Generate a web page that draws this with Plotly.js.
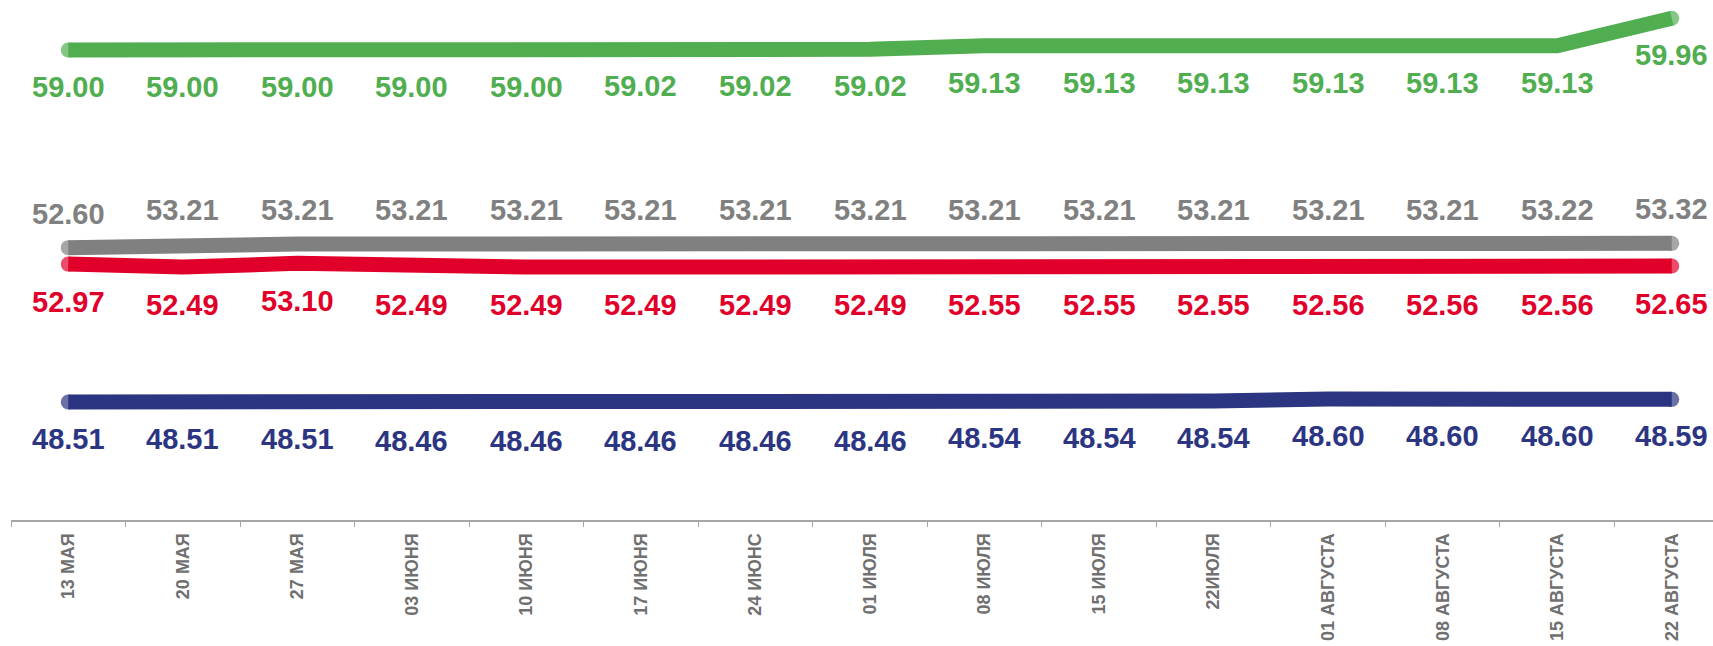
<!DOCTYPE html>
<html>
<head>
<meta charset="utf-8">
<script src="https://cdn.plot.ly/plotly-3.0.1.min.js"></script>
<style>html,body{margin:0;padding:0;background:#fff;}#chart{width:1713px;height:646px;}</style>
</head>
<body>
<div id="chart"></div>
<script>
const categories = ['13 МАЯ','20 МАЯ','27 МАЯ','03 ИЮНЯ','10 ИЮНЯ','17 ИЮНЯ','24 ИЮНС','01 ИЮЛЯ','08 ИЮЛЯ','15 ИЮЛЯ','22ИЮЛЯ','01 АВГУСТА','08 АВГУСТА','15 АВГУСТА','22 АВГУСТА'];
const greenValues = [59.00,59.00,59.00,59.00,59.00,59.02,59.02,59.02,59.13,59.13,59.13,59.13,59.13,59.13,59.96];
const grayValues  = [52.60,53.21,53.21,53.21,53.21,53.21,53.21,53.21,53.21,53.21,53.21,53.21,53.21,53.22,53.32];
const redValues   = [52.97,52.49,53.10,52.49,52.49,52.49,52.49,52.49,52.55,52.55,52.55,52.56,52.56,52.56,52.65];
const blueValues  = [48.51,48.51,48.51,48.46,48.46,48.46,48.46,48.46,48.54,48.54,48.54,48.60,48.60,48.60,48.59];

const W = 1713, H = 646, mL = 11, mB = 126;
const plotH = H - mB;
const LW = 15;

// each series drawn on its own hidden y-axis (offset placement, like the original)
const series = [
  {vals: greenValues, color: '#50ae50', axis: 'y',  ref: 59.00, px: 50,  scale: 33, shift: -37},
  {vals: grayValues,  color: '#808080', axis: 'y2', ref: 53.21, px: 244, scale: 6,  shift: 34},
  {vals: redValues,   color: '#e1002a', axis: 'y3', ref: 52.49, px: 267, scale: 6,  shift: -38},
  {vals: blueValues,  color: '#2b3582', axis: 'y4', ref: 48.51, px: 402, scale: 33, shift: -37}
];

function rangeFor(s){
  const top = s.ref + s.px / s.scale;
  return [top - plotH / s.scale, top];
}

const n = categories.length;
const capSizes = categories.map((_, i) => (i === 0 || i === n - 1) ? LW : 0);

const traces = series.map(s => ({
  x: categories, y: s.vals, yaxis: s.axis, type: 'scatter', mode: 'lines+markers',
  line: {color: s.color, width: LW},
  marker: {color: s.color, size: capSizes, line: {width: 0}},
  cliponaxis: false, hoverinfo: 'skip', showlegend: false
}));

const annotations = [];
series.forEach(s => {
  s.vals.forEach((v, i) => {
    annotations.push({
      x: categories[i], y: v, xref: 'x', yref: s.axis, text: v.toFixed(2),
      showarrow: false, yshift: s.shift, xanchor: 'center', yanchor: 'middle',
      font: {family: 'Liberation Sans, Arial, sans-serif', size: 29, weight: 700, color: s.color}
    });
  });
});

const hiddenY = r => ({range: r, visible: false, fixedrange: true});

const layout = {
  width: W, height: H,
  margin: {l: mL, r: 0, t: 0, b: mB},
  paper_bgcolor: '#ffffff', plot_bgcolor: '#ffffff',
  xaxis: {
    type: 'category', range: [-0.5, 14.36],
    showline: true, linecolor: '#a6a6a6', linewidth: 2,
    ticks: 'outside', tickson: 'boundaries', ticklen: 5, tickcolor: '#a6a6a6', tickwidth: 1,
    tickangle: -90, showgrid: false, zeroline: false, ticklabelstandoff: 4,
    tickfont: {family: 'Liberation Sans, Arial, sans-serif', size: 18, weight: 700, color: '#707070'}
  },
  yaxis: hiddenY(rangeFor(series[0])),
  yaxis2: Object.assign(hiddenY(rangeFor(series[1])), {overlaying: 'y'}),
  yaxis3: Object.assign(hiddenY(rangeFor(series[2])), {overlaying: 'y'}),
  yaxis4: Object.assign(hiddenY(rangeFor(series[3])), {overlaying: 'y'}),
  annotations: annotations
};

Plotly.newPlot('chart', traces, layout, {staticPlot: true, displayModeBar: false});
</script>
</body>
</html>
